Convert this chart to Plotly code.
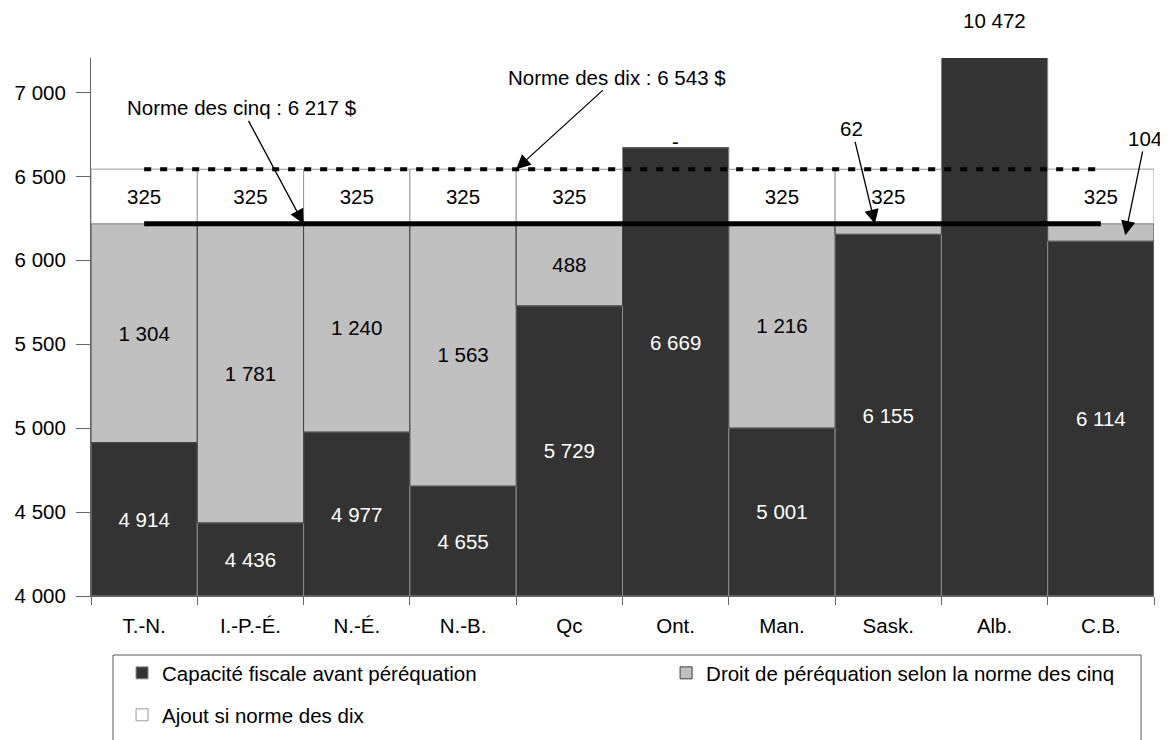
import plotly.graph_objects as go

# ---------------- data ----------------
provinces = ["T.-N.", "I.-P.-É.", "N.-É.", "N.-B.", "Qc", "Ont.", "Man.", "Sask.", "Alb.", "C.B."]
capacite = [4914, 4436, 4977, 4655, 5729, 6669, 5001, 6155, 10472, 6114]
droit = [1304, 1781, 1240, 1563, 488, 0, 1216, 62, None, 104]
ajout = [325, 325, 325, 325, 325, None, 325, 325, None, 325]
norme_cinq = 6217
norme_dix = 6543
y_ticks = [4000, 4500, 5000, 5500, 6000, 6500, 7000]

FONT = "Liberation Sans, Arial, sans-serif"
FS = 20.5
AXIS_MIN = 4000


def fmt(v):
    return f"{v:,}".replace(",", " ")


# label handling
dark_text = [fmt(c) for c in capacite]
dark_text[5] = ""   # Ont. label placed separately
dark_text[8] = ""   # Alb. label above the plot
light_text = []
for d in droit:
    if d is None or d == 0 or d < 150:
        light_text.append("")
    else:
        light_text.append(fmt(d))
white_base = [c + (d or 0) for c, d in zip(capacite, droit)]
white_text = [fmt(a) if a else "" for a in ajout]

fig = go.Figure()

fig.add_trace(go.Bar(
    x=provinces, y=[c - AXIS_MIN for c in capacite], base=[AXIS_MIN] * len(capacite),
    name="Capacité fiscale avant péréquation",
    marker=dict(color="#333333", line=dict(color="#8a8a8a", width=1)),
    text=dark_text, textposition="inside", insidetextanchor="middle",
    textfont=dict(color="white", size=FS, family=FONT),
    width=1, legend="legend",
))
fig.add_trace(go.Bar(
    x=provinces, y=droit, base=capacite,
    name="Droit de péréquation selon la norme des cinq",
    marker=dict(color="#c0c0c0", line=dict(color="#404040", width=1)),
    text=light_text, textposition="inside", insidetextanchor="middle",
    textfont=dict(color="black", size=FS, family=FONT),
    width=1, legend="legend3",
))
fig.add_trace(go.Bar(
    x=provinces, y=ajout, base=white_base,
    name="Ajout si norme des dix",
    marker=dict(color="white", line=dict(color="#999999", width=1)),
    text=white_text, textposition="inside", insidetextanchor="middle",
    textfont=dict(color="black", size=FS, family=FONT),
    width=1, legend="legend2",
))

# norm lines
fig.add_trace(go.Scatter(
    x=provinces, y=[norme_dix] * len(provinces), mode="lines",
    line=dict(color="black", width=4, dash="7px,9px"), showlegend=False, hoverinfo="skip",
))
fig.add_trace(go.Scatter(
    x=provinces, y=[norme_cinq] * len(provinces), mode="lines",
    line=dict(color="black", width=5), showlegend=False, hoverinfo="skip",
))

ann_font = dict(family=FONT, size=FS, color="black")
arrow = dict(showarrow=True, arrowhead=2, arrowsize=2.2, arrowwidth=1.3, arrowcolor="black", standoff=0)
annotations = [
    dict(x=1.5, y=norme_cinq, ax=-62, ay=-116, text=f"Norme des cinq : {fmt(norme_cinq)} $", font=ann_font, **arrow),
    dict(x=3.5, y=norme_dix, ax=101, ay=-92, text=f"Norme des dix : {fmt(norme_dix)} $", font=ann_font, **arrow),
    dict(x=6.875, y=norme_cinq, ax=-23, ay=-95, text=fmt(droit[7]), font=ann_font, **arrow),
    dict(x=9.23, y=6149, ax=20, ay=-97, text=fmt(droit[9]), font=ann_font, **arrow),
    dict(x=provinces[5], y=5510, text=fmt(capacite[5]), showarrow=False,
         font=dict(family=FONT, size=FS, color="white")),
    dict(x=provinces[5], y=capacite[5], text="-" if droit[5] == 0 else fmt(droit[5]), showarrow=False,
         yanchor="middle", yshift=6, font=ann_font),
    dict(x=provinces[8], xref="x", y=1.0706, yref="paper", text=fmt(capacite[8]), showarrow=False,
         font=ann_font, yanchor="middle"),
]

leg_common = dict(orientation="h", xanchor="left", yanchor="top", bgcolor="rgba(0,0,0,0)",
                  font=dict(family=FONT, size=FS, color="black"))

fig.update_layout(
    width=1160, height=732,
    margin=dict(l=83, r=14, t=50, b=144, autoexpand=False),
    paper_bgcolor="white", plot_bgcolor="white",
    barmode="overlay",
    font=dict(family=FONT, size=FS, color="black"),
    annotations=annotations,
    shapes=[dict(type="rect", xref="paper", yref="paper", x0=0.0207, x1=0.9878, y0=-0.30, y1=-0.1097,
                 line=dict(color="#595959", width=1), fillcolor="rgba(0,0,0,0)", layer="above")],
    legend=dict(x=0.0292, y=-0.106, **leg_common),
    legend3=dict(x=0.541, y=-0.106, **leg_common),
    legend2=dict(x=0.0292, y=-0.184, **leg_common),
    xaxis=dict(range=[-0.5, 9.5], tickson="boundaries", ticks="outside", ticklen=8, tickcolor="#666666",
               showline=True, linecolor="#666666", linewidth=1, showgrid=False, zeroline=False,
               ticklabelstandoff=11,
               tickfont=dict(family=FONT, size=FS, color="black")),
    yaxis=dict(range=[AXIS_MIN, 7205], tickmode="array", tickvals=y_ticks, ticktext=[fmt(v) for v in y_ticks],
               ticks="outside", ticklen=14, tickcolor="#666666", showline=True, linecolor="#666666",
               linewidth=1, showgrid=False, zeroline=False, ticklabelstandoff=6,
               tickfont=dict(family=FONT, size=FS, color="black")),
)

fig.write_html("out.html")
